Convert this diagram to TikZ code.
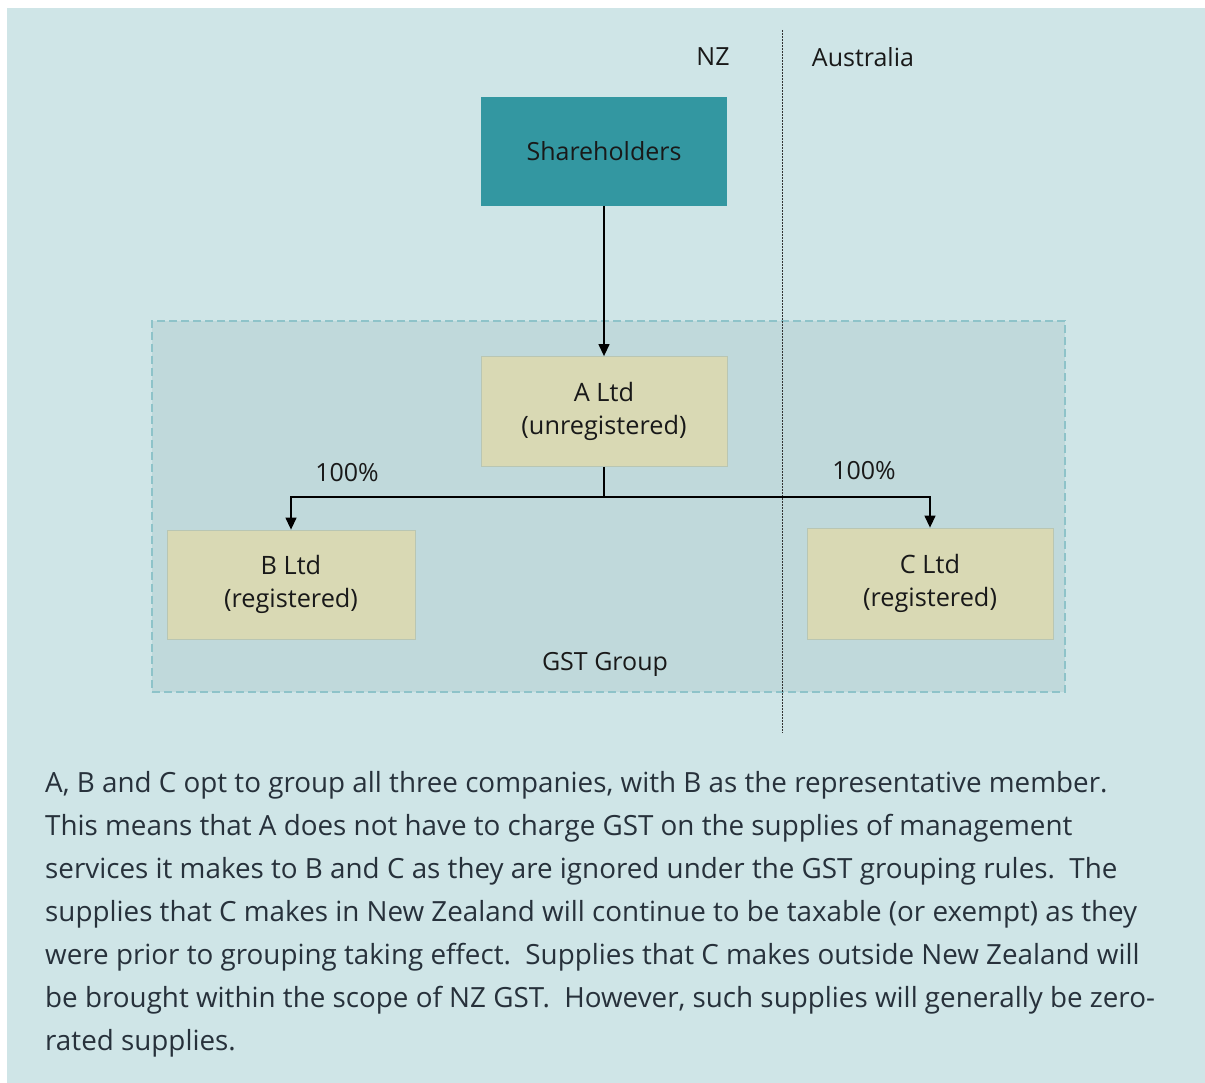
\documentclass[tikz,border=0pt]{standalone}
\usepackage{fontspec}
\setmainfont{Open Sans}
\usetikzlibrary{arrows.meta}
\definecolor{panelbg}{HTML}{CFE5E7}
\definecolor{groupbg}{HTML}{C0D9DB}
\definecolor{groupedge}{HTML}{8EC3C9}
\definecolor{teal}{HTML}{3397A1}
\definecolor{entity}{HTML}{D9D9B4}
\definecolor{entityedge}{HTML}{B9C6B3}
\definecolor{bodytext}{HTML}{27313B}
\tikzset{
  company/.style={draw=entityedge, line width=0.8pt, fill=entity, minimum width=246pt, minimum height=110pt, align=center, font=\fontsize{25.3}{33}\selectfont, text=black!90},
  owner/.style={fill=teal, minimum width=246pt, minimum height=109pt, font=\fontsize{25}{30}\selectfont, text=black!90},
  label/.style={font=\fontsize{25}{30}\selectfont, text=black!90},
  link/.style={line width=1.3pt, black, -{Triangle[length=12pt,width=11pt]}},
  para/.style={anchor=base west, inner sep=0pt, font=\fontsize{27.8}{30}\selectfont, text=bodytext},
}
\begin{document}
\begin{tikzpicture}[x=1pt, y=-1pt]
  \useasboundingbox (0,0) rectangle (1205,1083);
  \fill[panelbg] (7,8) rectangle (1205,1083);

  % GST group area
  \node[draw=groupedge, fill=groupbg, line width=1.3pt, dash pattern=on 8pt off 4pt, minimum width=913pt, minimum height=371pt, inner sep=0pt] (group) at (608.5,506.5) {};
  \node[label] (grouplbl) at (605,664) {GST Group};

  % border between NZ and Australia
  \coordinate (divtop) at (782,30);
  \coordinate (divbot) at (782,733);
  \draw[black!80, line width=0.8pt, dash pattern=on 2pt off 1pt] (divtop) -- (divbot);
  \node[label] (nz) at (713,57) {NZ};
  \node[label] (au) at (863,57) {Australia};

  % entities
  \node[owner] (sh) at (604,151.5) {Shareholders};
  \node[company] (a) at (604,411.5) {A Ltd\\(unregistered)};
  \node[company, minimum width=248pt, minimum height=109pt] (b) at (291,584.5) {B Ltd\\(registered)};
  \node[company, minimum height=111pt] (c) at (930,583.5) {C Ltd\\(registered)};

  % ownership links
  \draw[link] (sh) -- (a);
  \coordinate (fork) at (604,497);
  \draw[line width=1.3pt] (a.south) -- (fork);
  \draw[link] (fork) -| (b.north);
  \draw[link] (fork) -| (c.north);
  \node[label] (pb) at (347,473) {100\%};
  \node[label] (pc) at (864,471) {100\%};

  % explanation
  \node[para] (l1) at (45,792) {A, B and C opt to group all three companies, with B as the representative member.};
  \node[para] (l2) at (45,835) {This means that A does not have to charge GST on the supplies of management};
  \node[para] (l3) at (45,878) {services it makes to B and C as they are ignored under the GST grouping rules.\ \ The};
  \node[para] (l4) at (45,921) {supplies that C makes in New Zealand will continue to be taxable (or exempt) as they};
  \node[para] (l5) at (45,964) {were prior to grouping taking effect.\ \ Supplies that C makes outside New Zealand will};
  \node[para] (l6) at (45,1007) {be brought within the scope of NZ GST.\ \ However, such supplies will generally be zero-};
  \node[para] (l7) at (45,1050) {rated supplies.};
\end{tikzpicture}
\end{document}
